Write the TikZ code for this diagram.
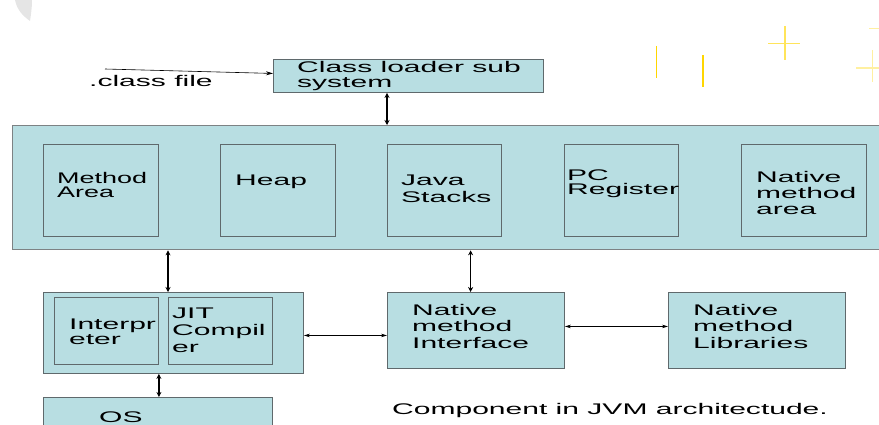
\documentclass[tikz,border=0pt]{standalone}
\usepackage{fontspec}
\newfontfamily\wide[FakeStretch=1.95]{Liberation Sans}
\newfontfamily\wideb[FakeStretch=1.75]{Liberation Sans}
\usetikzlibrary{arrows.meta,calc}
\definecolor{boxfill}{RGB}{184,222,226}
\definecolor{boxline}{RGB}{95,105,108}
\definecolor{bigline}{RGB}{125,130,132}
\definecolor{yelA}{RGB}{255,214,0}
\definecolor{yelB}{RGB}{255,228,90}
\definecolor{yelC}{RGB}{255,240,160}
\begin{document}
\begin{tikzpicture}[x=1pt,y=-1pt,
  box/.style={draw=boxline, line width=0.9pt, fill=boxfill, inner sep=0pt, anchor=north west},
  txt/.style={inner sep=0pt, anchor=north west, align=left, font=\wide\fontsize{15.4}{#1}\selectfont},
  txt/.default=16,
  darr/.style={{Stealth[length=5pt,width=5pt]}-{Stealth[length=5pt,width=5pt]}, line width=1.3pt},
  harr/.style={{Stealth[length=6pt,width=3.5pt]}-{Stealth[length=6pt,width=3.5pt]}, line width=0.6pt},
  sarr/.style={-{Stealth[length=7pt,width=4pt]}, line width=0.6pt}]
\useasboundingbox (0,0) rectangle (879,425);
% decorations
\fill[gray!20] (15,0) .. controls (17,10) and (23,16) .. (30,21) .. controls (31,14) and (32,8) .. (32,0) -- cycle;
\draw[yelA, line width=1.4pt] (656.5,46) -- (656.5,78);
\draw[yelA, line width=1.4pt] (703,55) -- (703,87);
\draw[yelB, line width=1.8pt] (785,26) -- (785,60);
\draw[yelB, line width=1pt] (768,43.3) -- (800,43.3);
\draw[yelC, line width=1.2pt] (872.5,50) -- (872.5,82);
\draw[yelC, line width=1.2pt] (856,68) -- (879,68);
\draw[yelC, line width=1.2pt] (869,28.3) -- (879,28.3);

% class loader
\node[box, minimum width=270pt, minimum height=33pt] (cl) at (273,59) {};
\node[txt=15.5] (cltxt) at (297,61) {Class loader sub\\system};
\node[txt] (cf) at (89,75) {.class file};
\coordinate (cfstart) at (105,69);
\draw[sarr] (cfstart) -- ([yshift=2.5pt]cl.west);

% big runtime area
\node[box, draw=bigline, line width=1.3pt, minimum width=875pt, minimum height=124pt] (big) at (12,125) {};
\node[box, minimum width=115pt, minimum height=92pt] (ma) at (43,144) {};
\node[box, minimum width=115pt, minimum height=92pt] (heap) at (220,144) {};
\node[box, minimum width=114pt, minimum height=92pt] (js) at (387,144) {};
\node[box, minimum width=114pt, minimum height=92pt] (pc) at (564,144) {};
\node[box, minimum width=125pt, minimum height=92pt] (nma) at (741,144) {};
\node[txt=14, font=\wideb\fontsize{15.4}{14}\selectfont] (matxt) at (57,172) {Method\\Area};
\node[txt] (heaptxt) at (235,175) {Heap};
\node[txt=17] (jstxt) at (401,175) {Java\\Stacks};
\node[txt=14] (pctxt) at (567,170) {PC\\Register};
\node[txt=16] (nmatxt) at (756,171) {Native\\method\\area};

\draw[darr] (cl.south -| js.west) -- (big.north -| js.west);

% execution engine
\node[box, minimum width=260pt, minimum height=81pt] (ee) at (43,292) {};
\node[box, minimum width=104pt, minimum height=67pt] (interp) at (54,297) {};
\node[box, minimum width=104pt, minimum height=67pt] (jit) at (168,297) {};
\node[txt=15] (interptxt) at (69,319) {Interpr\\eter};
\node[txt=17] (jittxt) at (172,308) {JIT\\Compil\\er};

% native interface and libraries
\node[box, minimum width=177pt, minimum height=76pt] (nmi) at (387,292) {};
\node[box, minimum width=177pt, minimum height=76pt] (nml) at (668,292) {};
\node[txt=16.5] (nmitxt) at (412,304) {Native\\method\\Interface};
\node[txt=16.5] (nmltxt) at (693,304) {Native\\method\\Libraries};

% OS
\node[box, minimum width=229pt, minimum height=45pt] (os) at (43,397) {};
\node[txt] (ostxt) at (99,412) {OS};

\node[txt] (caption) at (392,403) {Component in JVM architectude.};

% connectors
\draw[darr] (big.south -| jit.west) -- (ee.north -| jit.west);
\draw[darr] (big.south -| {$(nmi.north west)!0.47!(nmi.north east)$}) -- ($(nmi.north west)!0.47!(nmi.north east)$);
\draw[darr] (ee.south -| interp.east) -- (os.north -| interp.east);
\draw[harr] ([yshift=-2.5pt]ee.east) -- ([yshift=-2.5pt]ee.east -| nmi.west);
\draw[harr] ([yshift=4pt]nmi.east) -- ([yshift=4pt]nmi.east -| nml.west);
\end{tikzpicture}
\end{document}
